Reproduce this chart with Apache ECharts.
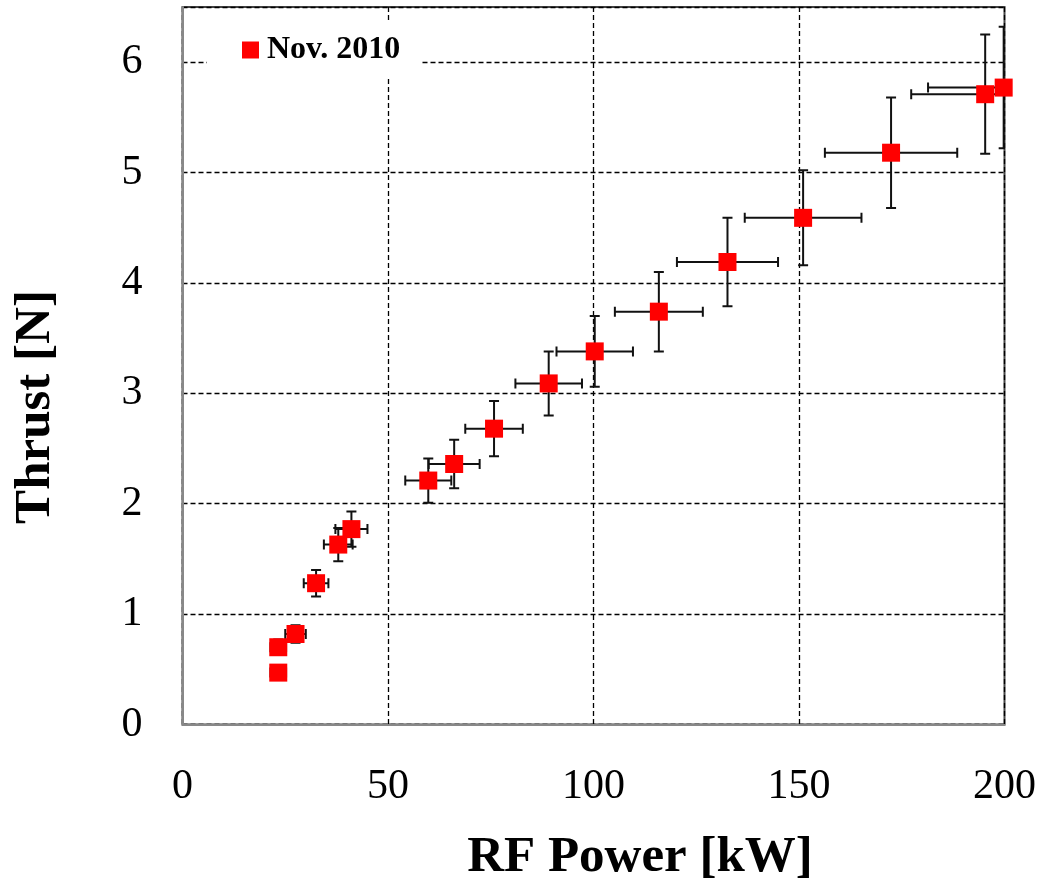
<!DOCTYPE html>
<html>
<head>
<meta charset="utf-8">
<script src="https://cdn.jsdelivr.net/npm/echarts@6/dist/echarts.min.js"></script>
<style>
html,body{margin:0;padding:0;background:#fff;}
#chart{width:1039px;height:888px;}
</style>
</head>
<body>
<div id="chart"></div>
<script>
// RF power [kW]
const powerKW = [23.3, 23.3, 27.5, 32.5, 37.9, 41.1, 59.8, 66.1, 75.8, 89.1, 100.3, 115.9, 132.6, 151.0, 172.4, 195.3, 199.8];
// Thrust [N]
const thrustN = [0.47, 0.70, 0.82, 1.28, 1.63, 1.77, 2.21, 2.36, 2.68, 3.09, 3.38, 3.74, 4.19, 4.59, 5.18, 5.71, 5.77];
// Error half-widths
const powerErr = [1.9, 1.9, 2.5, 3.0, 3.5, 3.9, 5.6, 6.2, 7.0, 8.1, 9.3, 10.7, 12.3, 14.2, 16.1, 18.0, 18.4];
const thrustErr = [0.05, 0.07, 0.08, 0.12, 0.15, 0.16, 0.20, 0.22, 0.25, 0.29, 0.32, 0.36, 0.40, 0.43, 0.50, 0.54, 0.55];
const seriesName = 'Nov. 2010';
const xTitle = 'RF Power [kW]';
const yTitle = 'Thrust [N]';

const FONT = '"Liberation Serif", "Times New Roman", serif';
const points = powerKW.map((x, i) => [x, thrustN[i]]);
const errData = powerKW.map((x, i) => [x, thrustN[i], powerErr[i], thrustErr[i]]);

const chart = echarts.init(document.getElementById('chart'), null, {renderer: 'canvas'});
const gridLine = {show: true, lineStyle: {color: '#000', type: [5, 3], width: 1.3}};

chart.setOption({
  animation: false,
  backgroundColor: '#fff',
  grid: {left: 182.5, right: 34, top: 7, bottom: 163.5, show: true, borderColor: '#444', borderWidth: 2, backgroundColor: 'transparent'},
  legend: {
    show: true,
    left: 207, top: 23,
    padding: [11, 20, 11, 35],
    backgroundColor: '#fff',
    itemWidth: 17, itemHeight: 17, itemGap: 10,
    textStyle: {fontFamily: FONT, fontSize: 32, fontWeight: 'bold', color: '#000', padding: [4, 0, 0, 3]},
    data: [{name: seriesName, icon: 'rect'}]
  },
  xAxis: {
    type: 'value', min: 0, max: 200, interval: 50,
    axisLine: {show: true, onZero: false, lineStyle: {color: '#888', width: 2}},
    axisTick: {show: false},
    axisLabel: {fontFamily: FONT, fontSize: 42, color: '#000', margin: 41},
    splitLine: gridLine
  },
  yAxis: {
    type: 'value', min: 0, max: 6.5, interval: 1,
    axisLine: {show: true, onZero: false, lineStyle: {color: '#888', width: 2}},
    axisTick: {show: false},
    axisLabel: {fontFamily: FONT, fontSize: 42, color: '#000', margin: 40, showMaxLabel: false,
      formatter: v => (Number.isInteger(v) ? String(v) : '')},
    splitLine: gridLine
  },
  graphic: [
    {type: 'text', position: [640, 858], style: {text: xTitle, fontFamily: FONT, fontSize: 51, fontWeight: 'bold', fill: '#000', align: 'center', verticalAlign: 'middle'}, z: 100},
    {type: 'text', position: [36, 407], rotation: Math.PI / 2, style: {text: yTitle, fontFamily: FONT, fontSize: 51, fontWeight: 'bold', fill: '#000', align: 'center', verticalAlign: 'middle'}, z: 100}
  ],
  series: [
    {
      type: 'custom',
      name: 'err',
      clip: true,
      z: 2,
      data: errData,
      renderItem: function (params, api) {
        const x = api.value(0), y = api.value(1), ex = api.value(2), ey = api.value(3);
        const c = api.coord([x, y]);
        const l = api.coord([x - ex, y]), r = api.coord([x + ex, y]);
        const t = api.coord([x, y + ey]), b = api.coord([x, y - ey]);
        const cap = 5;
        const st = {stroke: '#111', lineWidth: 2};
        return {
          type: 'group',
          children: [
            {type: 'line', shape: {x1: l[0], y1: c[1], x2: r[0], y2: c[1]}, style: st},
            {type: 'line', shape: {x1: l[0], y1: c[1] - cap, x2: l[0], y2: c[1] + cap}, style: st},
            {type: 'line', shape: {x1: r[0], y1: c[1] - cap, x2: r[0], y2: c[1] + cap}, style: st},
            {type: 'line', shape: {x1: c[0], y1: t[1], x2: c[0], y2: b[1]}, style: st},
            {type: 'line', shape: {x1: c[0] - cap, y1: t[1], x2: c[0] + cap, y2: t[1]}, style: st},
            {type: 'line', shape: {x1: c[0] - cap, y1: b[1], x2: c[0] + cap, y2: b[1]}, style: st}
          ]
        };
      }
    },
    {
      type: 'scatter',
      name: seriesName,
      clip: false,
      z: 5,
      symbol: 'rect',
      symbolSize: 18,
      itemStyle: {color: '#ff0000', opacity: 1},
      data: points
    }
  ]
});
</script>
</body>
</html>
